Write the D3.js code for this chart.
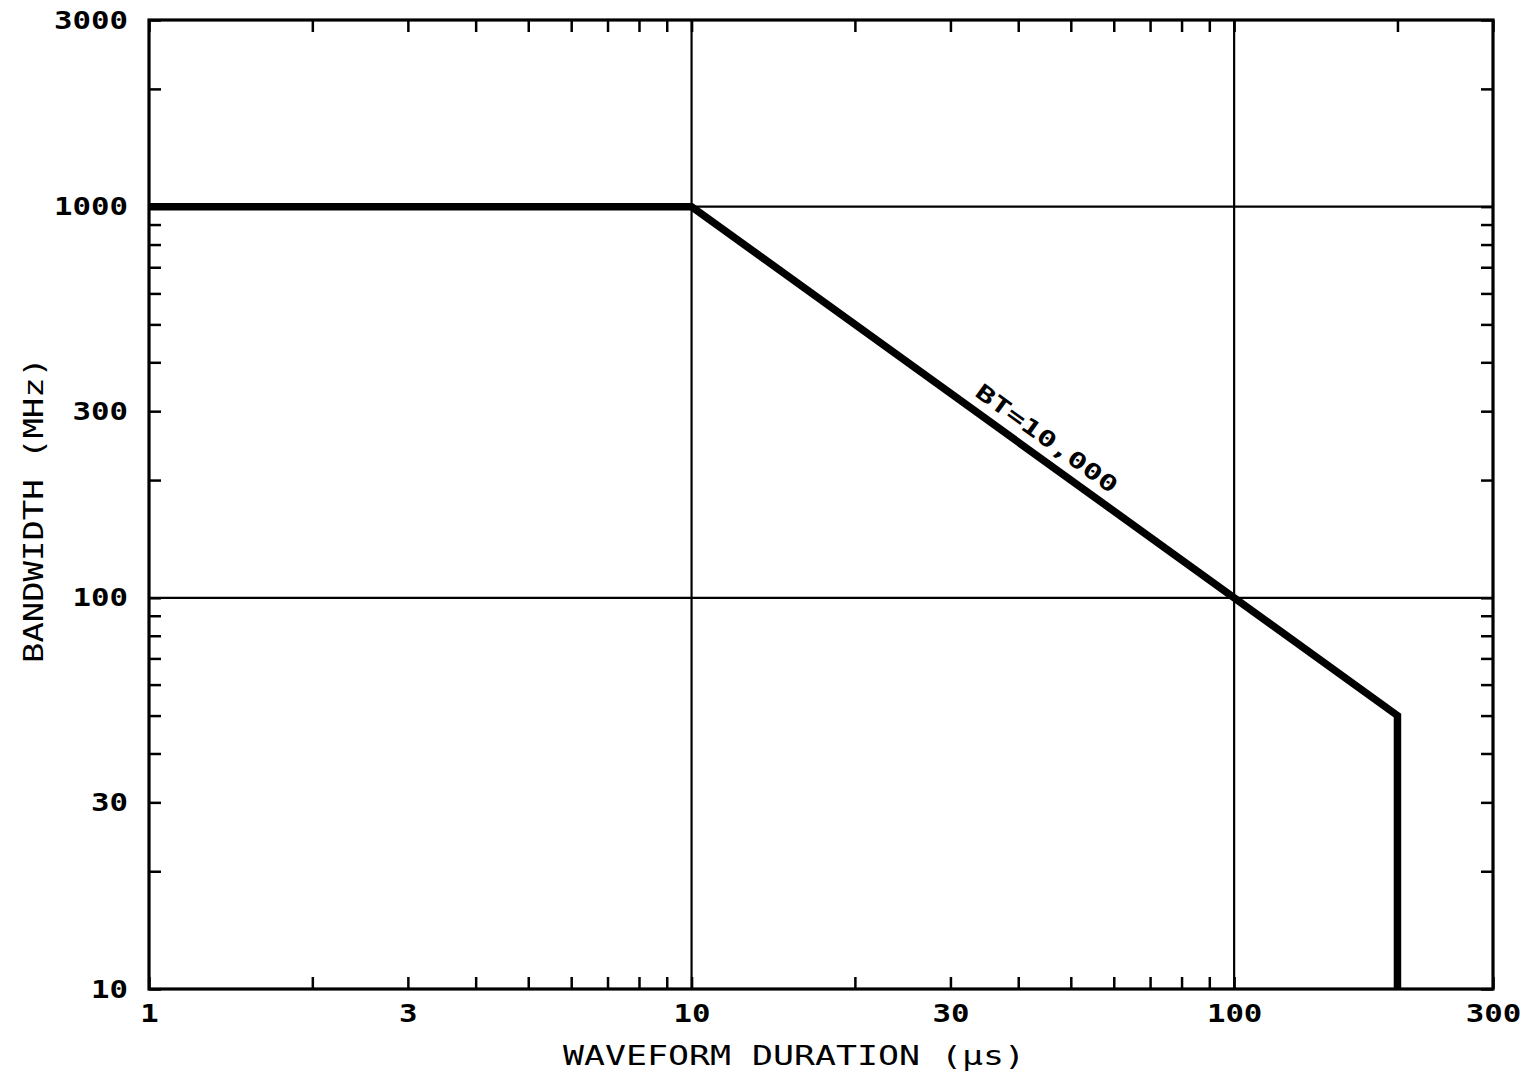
<!DOCTYPE html>
<html>
<head>
<meta charset="utf-8">
<script src="https://cdn.jsdelivr.net/npm/d3@7"></script>
<style>
  html, body { margin: 0; padding: 0; background: #fff; }
  svg { display: block; }
</style>
</head>
<body>
<script>
// ---- data ----
const durations  = [1, 10, 200, 200];      // µs
const bandwidths = [1000, 1000, 50, 10];   // MHz
const xTickLabels = [1, 3, 10, 30, 100, 300];
const yTickLabels = [10, 30, 100, 300, 1000, 3000];
const xMinorTicks = [2, 4, 5, 6, 7, 8, 9, 20, 40, 50, 60, 70, 80, 90, 200];
const yMinorTicks = [20, 40, 50, 60, 70, 80, 90, 200, 400, 500, 600, 700, 800, 900, 2000];
const xGrid = [10, 100];
const yGrid = [100, 1000];
const annotation = { text: "BT=10,000", t: 43, b: 10000 / 43 };
const xTitle = "WAVEFORM DURATION (µs)";
const yTitle = "BANDWIDTH (MHz)";

// ---- layout ----
const W = 1527, H = 1075;
const L = 149, R = 1493, T = 20, B = 989;
const FONT = "'DejaVu Sans Mono', 'Liberation Mono', monospace";
const CHAR_W = 18.5;
const LABEL_SIZE = 24;

const svg = d3.select("body").append("svg").attr("width", W).attr("height", H);

const x = d3.scaleLog().domain([1, 300]).range([L, R]);
const y = d3.scaleLog().domain([10, 3000]).range([B, T]);

const allX = xTickLabels.concat(xMinorTicks);
const allY = yTickLabels.concat(yMinorTicks);
const fmt = d => String(d);

function styleAxis(g) {
  g.select(".domain").remove();
  g.selectAll(".tick line").attr("stroke", "#000").attr("stroke-width", 2.5);
}

// grid
svg.append("g").selectAll("line").data(xGrid).join("line")
  .attr("x1", d => x(d)).attr("x2", d => x(d)).attr("y1", T).attr("y2", B)
  .attr("stroke", "#000").attr("stroke-width", 2.2);
svg.append("g").selectAll("line").data(yGrid).join("line")
  .attr("y1", d => y(d)).attr("y2", d => y(d)).attr("x1", L).attr("x2", R)
  .attr("stroke", "#000").attr("stroke-width", 2.2);

// bottom axis with labels
const gx = svg.append("g").attr("transform", `translate(0,${B})`)
  .call(d3.axisBottom(x).tickValues(allX).tickSize(-12).tickPadding(0)
    .tickFormat(d => xTickLabels.includes(d) ? fmt(d) : ""));
styleAxis(gx);
gx.selectAll(".tick text")
  .attr("y", 33).attr("dy", null)
  .attr("font-family", FONT).attr("font-weight", "bold").attr("font-size", LABEL_SIZE)
  .attr("fill", "#000").attr("text-anchor", "middle")
  .each(function(d) {
    const s = xTickLabels.includes(d) ? fmt(d) : "";
    if (s) d3.select(this).attr("textLength", s.length * CHAR_W).attr("lengthAdjust", "spacingAndGlyphs");
  });

// top axis (ticks only)
const gxt = svg.append("g").attr("transform", `translate(0,${T})`)
  .call(d3.axisTop(x).tickValues(allX).tickSize(-12).tickFormat(""));
styleAxis(gxt);

// left axis with labels
const gy = svg.append("g").attr("transform", `translate(${L},0)`)
  .call(d3.axisLeft(y).tickValues(allY).tickSize(-12).tickPadding(0)
    .tickFormat(d => yTickLabels.includes(d) ? fmt(d) : ""));
styleAxis(gy);
gy.selectAll(".tick text")
  .attr("dy", null).attr("y", 8)
  .attr("font-family", FONT).attr("font-weight", "bold").attr("font-size", LABEL_SIZE)
  .attr("fill", "#000").attr("text-anchor", "start")
  .each(function(d) {
    const s = yTickLabels.includes(d) ? fmt(d) : "";
    if (s) d3.select(this)
      .attr("x", -(L - 128) - s.length * CHAR_W)
      .attr("textLength", s.length * CHAR_W).attr("lengthAdjust", "spacingAndGlyphs");
  });

// right axis (ticks only)
const gyr = svg.append("g").attr("transform", `translate(${R},0)`)
  .call(d3.axisRight(y).tickValues(allY).tickSize(-12).tickFormat(""));
styleAxis(gyr);

// frame
svg.append("rect").attr("x", L).attr("y", T).attr("width", R - L).attr("height", B - T)
  .attr("fill", "none").attr("stroke", "#000").attr("stroke-width", 3.2);

// data line
const pts = durations.map((t, i) => [t, bandwidths[i]]);
svg.append("path").datum(pts)
  .attr("d", d3.line().x(d => x(d[0])).y(d => y(d[1])))
  .attr("fill", "none").attr("stroke", "#000").attr("stroke-width", 7.5)
  .attr("stroke-linejoin", "miter").attr("stroke-linecap", "butt");

// annotation along sloped segment
const ang = Math.atan2(y(100) - y(1000), x(100) - x(10)) * 180 / Math.PI;
svg.append("text")
  .attr("transform", `translate(${x(annotation.t)},${y(annotation.b)}) rotate(${ang})`)
  .attr("x", 0).attr("y", -12)
  .attr("text-anchor", "middle")
  .attr("font-family", FONT).attr("font-weight", "bold").attr("font-size", 22)
  .attr("textLength", annotation.text.length * 18.8).attr("lengthAdjust", "spacingAndGlyphs")
  .text(annotation.text);

// axis titles
svg.append("text")
  .attr("x", 794).attr("y", 1065).attr("text-anchor", "middle")
  .attr("font-family", FONT).attr("font-size", 27)
  .attr("textLength", 462).attr("lengthAdjust", "spacingAndGlyphs")
  .text(xTitle);
svg.append("text")
  .attr("transform", `translate(43,510) rotate(-90)`)
  .attr("text-anchor", "middle")
  .attr("font-family", FONT).attr("font-size", 27)
  .attr("textLength", 306).attr("lengthAdjust", "spacingAndGlyphs")
  .text(yTitle);
</script>
</body>
</html>
